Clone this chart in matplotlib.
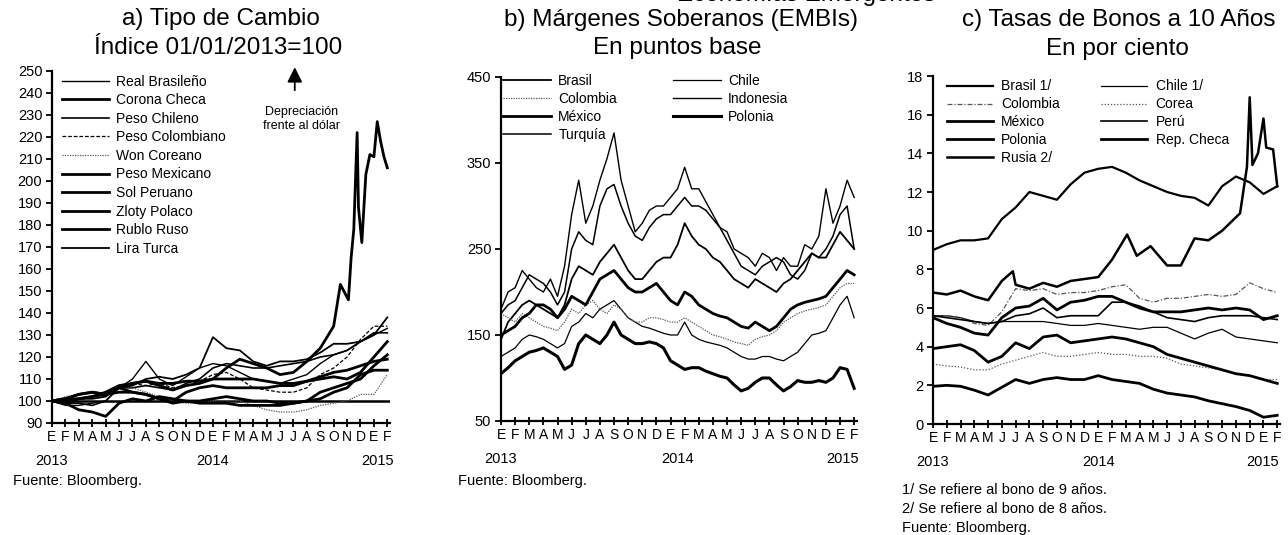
import matplotlib
matplotlib.use("Agg")
import matplotlib.pyplot as plt
import numpy as np

plt.rcParams['font.family'] = ['Liberation Sans', 'DejaVu Sans']

# eje de tiempo: indice de mes, 0 = enero 2013 ... 25 = febrero 2015
meses = np.arange(26)
quincenas = np.arange(0, 25.01, 0.5)
letras_mes = list("EFMAMJJASOND") * 2 + ["E", "F"]
anios = ["2013", "2014", "2015"]

# ---- a) Tipo de cambio, indice 01/01/2013=100 ----
real_brasileno = [100, 98, 98, 99, 100, 106, 110, 118, 110, 107, 111, 115, 117, 116, 113, 110, 109, 108, 110, 112, 117, 121, 123, 127, 130, 133]
corona_checa = [100, 101, 103, 104, 103, 104, 104, 103, 101, 100, 104, 106, 107, 106, 106, 106, 106, 107, 107, 109, 110, 111, 110, 113, 120, 127]
peso_chileno = [100, 99, 99, 98, 100, 106, 106, 107, 106, 105, 108, 110, 115, 117, 116, 115, 115, 116, 117, 118, 120, 121, 123, 127, 131, 131]
peso_colombiano = [100, 101, 103, 104, 103, 106, 108, 107, 108, 106, 107, 109, 112, 113, 110, 106, 105, 104, 104, 106, 112, 115, 120, 128, 134, 134]
won_coreano = [100, 102, 103, 104, 102, 106, 106, 104, 102, 100, 99, 99, 100, 100, 100, 98, 96, 95, 95, 96, 98, 99, 100, 103, 103, 112]
peso_mexicano = [100, 99, 96, 95, 93, 99, 101, 100, 102, 101, 100, 100, 101, 102, 101, 100, 100, 99, 99, 100, 101, 104, 106, 112, 114, 114]
sol_peruano = [100, 101, 101, 102, 104, 107, 108, 109, 108, 108, 109, 109, 110, 110, 110, 110, 109, 108, 108, 109, 111, 113, 114, 116, 118, 119]
zloty_polaco = [100, 101, 103, 104, 103, 106, 104, 103, 101, 99, 100, 99, 99, 99, 98, 98, 98, 98, 99, 100, 104, 106, 108, 110, 116, 121]
lira_turca = [100, 100, 101, 101, 102, 106, 107, 110, 111, 110, 112, 115, 129, 124, 123, 118, 116, 118, 118, 119, 122, 126, 126, 127, 130, 138]
meses_rublo = [0, 1, 2, 3, 4, 5, 6, 7, 8, 9, 10, 11, 12, 13, 14, 15, 16, 17, 18, 19, 20, 21,
               21.5, 22.1, 22.3, 22.5, 22.75, 22.85, 23.1, 23.4, 23.7, 24.0, 24.25, 24.5, 24.75, 25.0]
rublo_ruso = [100, 99, 101, 102, 103, 106, 108, 109, 107, 105, 107, 108, 110, 115, 119, 117, 115, 112, 113, 118, 124, 134,
              153, 146, 165, 178, 222, 188, 172, 203, 212, 211, 227, 218, 211, 206]

# ---- b) EMBIs, puntos base (cada media mes) ----
embi_brasil = [145, 165, 175, 185, 190, 185, 180, 175, 170, 185, 215, 230, 225, 220, 235, 245, 255, 240, 225, 215,
               215, 225, 235, 240, 240, 255, 280, 265, 255, 250, 240, 235, 225, 215, 210, 205, 215, 210, 205, 200,
               210, 215, 225, 235, 245, 240, 240, 255, 270, 260, 250]
embi_chile = [125, 130, 135, 145, 150, 148, 145, 140, 135, 140, 160, 165, 175, 170, 180, 185, 190, 180, 170, 165,
              160, 158, 155, 152, 150, 150, 165, 150, 145, 142, 140, 138, 135, 130, 125, 122, 122, 125, 125, 122,
              120, 125, 130, 140, 150, 152, 155, 170, 185, 195, 170]
embi_colombia = [175, 170, 165, 175, 170, 165, 160, 158, 155, 165, 180, 175, 185, 190, 180, 175, 185, 180, 170, 165,
                 165, 170, 170, 168, 165, 165, 170, 165, 160, 155, 150, 148, 145, 142, 140, 138, 145, 148, 150, 155,
                 165, 170, 175, 178, 180, 182, 185, 195, 205, 210, 210]
embi_indonesia = [180, 200, 205, 225, 215, 205, 200, 215, 195, 230, 290, 330, 280, 300, 330, 355, 385, 330, 300, 270,
                  280, 295, 300, 300, 310, 320, 345, 320, 320, 305, 290, 275, 270, 250, 245, 240, 230, 245, 240, 225,
                  240, 230, 230, 255, 250, 265, 320, 280, 300, 330, 310]
embi_mexico = [150, 155, 160, 170, 175, 185, 185, 180, 170, 180, 195, 190, 185, 200, 215, 220, 225, 215, 205, 200,
               200, 205, 210, 200, 190, 185, 200, 195, 185, 180, 175, 172, 170, 165, 160, 158, 165, 160, 155, 160,
               170, 180, 185, 188, 190, 192, 195, 205, 215, 225, 220]
embi_polonia = [105, 112, 120, 125, 130, 132, 135, 130, 125, 110, 115, 140, 150, 145, 140, 150, 165, 150, 145, 140,
                140, 142, 140, 135, 120, 115, 110, 112, 112, 108, 105, 102, 100, 92, 85, 88, 95, 100, 100, 92,
                85, 90, 97, 95, 95, 97, 95, 100, 112, 110, 88]
embi_turquia = [175, 185, 190, 205, 220, 215, 210, 200, 185, 200, 250, 270, 260, 255, 300, 320, 325, 300, 280, 265,
                260, 275, 285, 290, 290, 300, 310, 300, 300, 295, 285, 275, 260, 245, 230, 225, 220, 230, 235, 240,
                235, 220, 215, 225, 245, 240, 250, 265, 290, 300, 250]

# ---- c) Bonos a 10 anios, por ciento ----
bono_brasil = [9.0, 9.3, 9.5, 9.5, 9.6, 10.6, 11.2, 12.0, 11.8, 11.6, 12.4, 13.0, 13.2, 13.3, 13.0, 12.6, 12.3, 12.0, 11.8, 11.7, 11.3, 12.3, 12.8, 12.5, 11.9, 12.3]
bono_chile = [5.6, 5.6, 5.5, 5.3, 5.2, 5.3, 5.3, 5.3, 5.3, 5.2, 5.1, 5.1, 5.2, 5.1, 5.0, 4.9, 5.0, 5.0, 4.7, 4.4, 4.7, 4.9, 4.5, 4.4, 4.3, 4.2]
bono_colombia = [5.6, 5.6, 5.5, 5.2, 5.1, 5.8, 7.0, 6.9, 7.0, 6.7, 6.8, 6.8, 6.9, 7.1, 7.2, 6.5, 6.3, 6.5, 6.5, 6.6, 6.7, 6.6, 6.7, 7.3, 7.0, 6.8]
bono_corea = [3.1, 3.0, 2.95, 2.8, 2.8, 3.1, 3.3, 3.5, 3.7, 3.5, 3.5, 3.6, 3.7, 3.6, 3.6, 3.5, 3.5, 3.4, 3.1, 3.0, 2.9, 2.8, 2.6, 2.5, 2.3, 2.3]
bono_mexico = [5.5, 5.2, 5.0, 4.7, 4.6, 5.5, 6.0, 6.1, 6.5, 5.9, 6.3, 6.4, 6.6, 6.6, 6.3, 6.0, 5.8, 5.8, 5.8, 5.9, 6.0, 5.9, 6.0, 5.9, 5.4, 5.6]
bono_peru = [5.6, 5.5, 5.4, 5.3, 5.2, 5.3, 5.6, 5.7, 6.0, 5.5, 5.6, 5.6, 5.6, 6.3, 6.3, 6.1, 5.8, 5.5, 5.4, 5.3, 5.5, 5.6, 5.6, 5.6, 5.5, 5.4]
bono_polonia = [3.9, 4.0, 4.1, 3.8, 3.2, 3.5, 4.2, 3.9, 4.5, 4.6, 4.2, 4.3, 4.4, 4.5, 4.4, 4.2, 4.0, 3.6, 3.4, 3.2, 3.0, 2.8, 2.6, 2.5, 2.3, 2.1]
bono_checa = [1.95, 2.0, 1.95, 1.75, 1.5, 1.9, 2.3, 2.1, 2.3, 2.4, 2.3, 2.3, 2.5, 2.3, 2.2, 2.1, 1.8, 1.6, 1.5, 1.4, 1.2, 1.05, 0.9, 0.7, 0.35, 0.45]
meses_rusia = [0, 1, 2, 3, 4, 5, 5.8, 6, 7, 8, 9, 10, 11, 12, 13, 14.1, 14.8, 15.8, 17, 18, 19, 20, 21, 22.3,
               22.8, 23.0, 23.2, 23.6, 24.0, 24.2, 24.7, 25.0]
bono_rusia = [6.8, 6.7, 6.9, 6.6, 6.4, 7.4, 7.9, 7.2, 7.0, 7.3, 7.1, 7.4, 7.5, 7.6, 8.5, 9.8, 8.7, 9.2, 8.2, 8.2, 9.6, 9.5, 10.0, 10.9,
              13.3, 16.9, 13.4, 14.0, 15.8, 14.3, 14.2, 12.3]

negro = "black"
gris = "#555555"

fig = plt.figure(figsize=(12.88, 5.35), dpi=100)
ax1 = fig.add_axes([52 / 1288, 1 - 423 / 535, 338 / 1288, 352 / 535])
ax2 = fig.add_axes([501 / 1288, 1 - 421 / 535, 356 / 1288, 344 / 535])
ax3 = fig.add_axes([933 / 1288, 1 - 424 / 535, 347 / 1288, 348 / 535])


def formato_eje(ax, pos_anios):
    ax.spines['top'].set_visible(False)
    ax.spines['right'].set_visible(False)
    ax.spines['left'].set_linewidth(1.6)
    ax.spines['bottom'].set_linewidth(1.6)
    ax.set_xlim(0, 25.2)
    ax.set_xticks(meses)
    ax.set_xticklabels(letras_mes, fontsize=10)
    ax.tick_params(axis='x', direction='inout', length=6, width=1.3, pad=2)
    ax.tick_params(axis='y', direction='out', length=4, width=1.3, labelsize=10.5, pad=3)
    for x, a in zip(pos_anios, anios):
        ax.annotate(a, xy=(x, 0), xycoords=('data', 'axes fraction'), xytext=(0, -38),
                    textcoords='offset pixels', ha='center', va='center', fontsize=10.5)


def leyenda_por_filas(ax, **kw):
    # la referencia ordena por filas; matplotlib llena por columnas
    h, l = ax.get_legend_handles_labels()
    h = h[0::2] + h[1::2]
    l = l[0::2] + l[1::2]
    ax.legend(h, l, ncol=2, loc='upper left', frameon=False, borderpad=0, borderaxespad=0, **kw)


# panel a
ax1.axhline(100, color=negro, lw=1.8)
ax1.plot(meses, real_brasileno, color=negro, lw=1.0, label="Real Brasileño")
ax1.plot(meses, corona_checa, color=negro, lw=2.0, label="Corona Checa")
ax1.plot(meses, peso_chileno, color=negro, lw=1.2, label="Peso Chileno")
ax1.plot(meses, peso_colombiano, color=negro, lw=0.9, ls=(0, (3, 1.5)), label="Peso Colombiano")
ax1.plot(meses, won_coreano, color=gris, lw=0.9, ls=(0, (1, 1)), label="Won Coreano")
ax1.plot(meses, peso_mexicano, color=negro, lw=2.0, label="Peso Mexicano")
ax1.plot(meses, sol_peruano, color=negro, lw=2.0, label="Sol Peruano")
ax1.plot(meses, zloty_polaco, color=negro, lw=2.0, label="Zloty Polaco")
ax1.plot(meses_rublo, rublo_ruso, color=negro, lw=2.0, label="Rublo Ruso")
ax1.plot(meses, lira_turca, color=negro, lw=1.3, label="Lira Turca")
ax1.set_ylim(90, 250)
ax1.set_yticks(np.arange(90, 251, 10))
formato_eje(ax1, [0, 12, 24.3])
ax1.legend(loc='upper left', bbox_to_anchor=(0.03, 0.99), frameon=False, fontsize=10,
           handlelength=3.4, handletextpad=0.5, labelspacing=0.33, borderpad=0, borderaxespad=0)
ax1.annotate("", xy=(18.1, 253), xytext=(18.1, 240), annotation_clip=False,
             arrowprops=dict(arrowstyle="-|>,head_length=0.9,head_width=0.45", color=negro, lw=1.3))
ax1.text(18.6, 228, "Depreciación\nfrente al dólar", ha='center', va='center', fontsize=9, linespacing=1.2)
ax1.text(-0.115, -0.165, "Fuente: Bloomberg.", transform=ax1.transAxes, va='center', fontsize=10.5)
fig.text(221 / 1288, 1 - 19 / 535, "a) Tipo de Cambio", ha='center', va='center', fontsize=17.5)
fig.text(218 / 1288, 1 - 48 / 535, "Índice 01/01/2013=100", ha='center', va='center', fontsize=17.5)

# panel b
ax2.plot(quincenas, embi_brasil, color=negro, lw=1.3, label="Brasil")
ax2.plot(quincenas, embi_chile, color=negro, lw=0.9, label="Chile")
ax2.plot(quincenas, embi_colombia, color=gris, lw=0.9, ls=(0, (1, 1)), label="Colombia")
ax2.plot(quincenas, embi_indonesia, color=negro, lw=1.0, label="Indonesia")
ax2.plot(quincenas, embi_mexico, color=negro, lw=2.0, label="México")
ax2.plot(quincenas, embi_polonia, color=negro, lw=2.2, label="Polonia")
ax2.plot(quincenas, embi_turquia, color=negro, lw=1.1, label="Turquía")
ax2.set_ylim(50, 450)
ax2.set_yticks([50, 150, 250, 350, 450])
formato_eje(ax2, [0, 12.5, 24.2])
leyenda_por_filas(ax2, bbox_to_anchor=(0.005, 1.008), fontsize=10, handlelength=3.5, handletextpad=0.5,
                  labelspacing=0.28, columnspacing=4.0)
ax2.text(-0.12, -0.175, "Fuente: Bloomberg.", transform=ax2.transAxes, va='center', fontsize=10.5)

# panel c
ax3.plot(meses, bono_brasil, color=negro, lw=1.6, label="Brasil 1/")
ax3.plot(meses, bono_chile, color=negro, lw=0.9, label="Chile 1/")
ax3.plot(meses, bono_colombia, color=gris, lw=0.9, ls=(0, (4, 1.5, 1, 1.5)), label="Colombia")
ax3.plot(meses, bono_corea, color=gris, lw=0.9, ls=(0, (1, 1.5)), label="Corea")
ax3.plot(meses, bono_mexico, color=negro, lw=2.0, label="México")
ax3.plot(meses, bono_peru, color=negro, lw=1.2, label="Perú")
ax3.plot(meses, bono_polonia, color=negro, lw=2.0, label="Polonia")
ax3.plot(meses, bono_checa, color=negro, lw=2.0, label="Rep. Checa")
ax3.plot(meses_rusia, bono_rusia, color=negro, lw=1.8, label="Rusia 2/")
ax3.set_ylim(0, 18)
ax3.set_yticks(np.arange(0, 19, 2))
formato_eje(ax3, [0, 12, 23.9])
leyenda_por_filas(ax3, bbox_to_anchor=(0.04, 0.99), fontsize=10, handlelength=3.3, handletextpad=0.6,
                  labelspacing=0.28, columnspacing=3.0)
ax3.text(-0.09, -0.17, "1/ Se refiere al bono de 9 años.\n2/ Se refiere al bono de 8 años.\nFuente: Bloomberg.",
         transform=ax3.transAxes, va='top', fontsize=10.5, linespacing=1.45)

fig.text(681 / 1288, 1 - 20 / 535, "b) Márgenes Soberanos (EMBIs)", ha='center', va='center', fontsize=17.5)
fig.text(677 / 1288, 1 - 48 / 535, "En puntos base", ha='center', va='center', fontsize=17.5)
fig.text(1119 / 1288, 1 - 20 / 535, "c) Tasas de Bonos a 10 Años", ha='center', va='center', fontsize=17.5)
fig.text(1117 / 1288, 1 - 49 / 535, "En por ciento", ha='center', va='center', fontsize=17.5)
fig.text(935 / 1288, 1.01, "Economías Emergentes", ha='right', va='center', fontsize=17.5)

fig.savefig("out.png", dpi=100)
